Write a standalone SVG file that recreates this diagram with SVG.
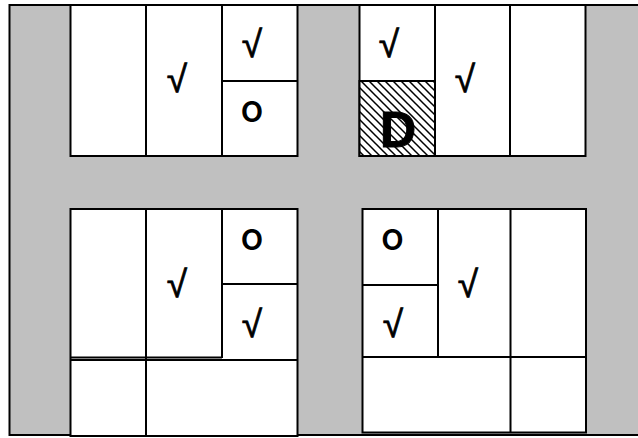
<svg xmlns="http://www.w3.org/2000/svg" width="638" height="438" viewBox="0 0 638 438">
<style>
.c{fill:#fff;stroke:#000;stroke-width:2}
.l{stroke:#000;stroke-width:2;fill:none}
.t{font-family:"Liberation Sans",sans-serif;font-size:37px;stroke:#000;stroke-width:.8;fill:#000;text-anchor:middle}
.o{font-family:"Inter",sans-serif;font-size:38px;font-weight:500;fill:#000;text-anchor:middle}
.d{font-family:"Liberation Sans",sans-serif;font-size:50px;font-weight:700;stroke:#000;stroke-width:1;fill:#000;text-anchor:middle}
</style>
<defs>
<pattern id="h" width="8" height="8" patternUnits="userSpaceOnUse">
<rect width="8" height="8" fill="#fff"/>
<path d="M-2 -2L10 10M-2 6L2 10M6 -2L10 2" stroke="#000" stroke-width="1.500"/>
</pattern>
</defs>
<rect id="background" x="9.5" y="5" width="640" height="430" fill="#c0c0c0" stroke="#000" stroke-width="2"/>
<g id="block-top-left">
<rect class="c" x="70.5" y="5" width="227" height="151"/>
<path class="l" d="M146 5V156M222 5V156M222 81H298"/>
<text class="t" x="177" y="92">√</text>
<text class="t" x="252" y="57">√</text>
<text class="o" x="252" y="121.500">o</text>
</g>
<g id="block-top-right">
<rect class="c" x="359.5" y="5" width="226" height="151"/>
<rect x="359.5" y="81" width="75.500" height="75" fill="url(#h)" stroke="#000" stroke-width="2"/>
<path class="l" d="M435 5V156M510 5V156M359 81H435"/>
<text class="t" x="389" y="57">√</text>
<text class="t" x="465" y="92">√</text>
<text class="d" x="398" y="147">D</text>
</g>
<g id="block-bottom-left">
<rect class="c" x="70.500" y="209" width="227" height="227"/>
<path class="l" d="M146 209V436M222 209V358M222 284H298M70 357.500H222M70 360H298"/>
<text class="t" x="177" y="297">√</text>
<text class="t" x="252" y="337">√</text>
<text class="o" x="252" y="249.500">o</text>
</g>
<g id="block-bottom-right">
<rect class="c" x="362.500" y="209" width="223.500" height="223.500"/>
<path class="l" d="M438 209V357M510.500 209V432M362 285H438M362 357H586"/>
<text class="t" x="468" y="297">√</text>
<text class="t" x="393" y="337">√</text>
<text class="o" x="392.500" y="249.500">o</text>
</g>
</svg>
